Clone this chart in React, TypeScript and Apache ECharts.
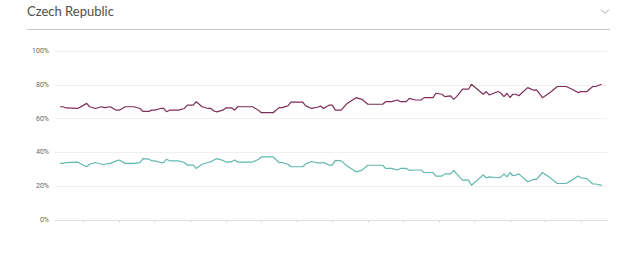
import React, { useEffect, useRef } from "react";
import * as echarts from "echarts";

// month index from the first observation
const months = [
  0, 1, 2, 6, 9, 10, 12, 14, 15, 17, 19, 20, 22, 25, 27, 28, 30, 31, 32, 34, 35, 36, 37, 40,
  42, 43, 45, 46, 48, 50, 51, 52, 53, 55, 56, 58, 59, 60, 65, 67, 68, 72, 74, 75, 77, 78, 82,
  83, 85, 87, 88, 89, 91, 92, 93, 95, 97, 100, 102, 104, 109, 110, 112, 114, 115, 117, 118,
  120, 122, 123, 126, 127, 129, 130, 132, 133, 134, 136, 138, 139, 141, 143, 144, 145, 148,
  149, 150, 151, 152, 153, 154, 155, 158, 160, 161, 163, 166, 168, 171, 173, 175, 176, 178,
  180, 181, 183,
];

const upperValues = [
  67, 67, 66.3, 66, 69, 67, 66, 67, 66.5, 67, 65, 65, 67, 67, 66, 64.3, 64.3, 65, 65, 66, 66,
  64, 65, 65, 66, 68, 68, 70, 67, 66, 66, 64.5, 64, 65, 66.3, 66.3, 65, 67, 67, 65, 63.5, 63.5,
  66.5, 66.5, 67.5, 69.7, 69.7, 67.5, 66, 66.7, 67.5, 66, 68, 68, 65, 65, 69, 72.4, 71.4, 68.5,
  68.5, 70, 70, 71, 70, 70, 72, 71, 71, 72.4, 72.4, 75, 74.4, 73, 73.5, 71.4, 73, 77.4, 77.4,
  80.3, 77.4, 74.4, 76, 74, 76, 75, 73, 75, 72.5, 74.4, 74.4, 73.5, 78.3, 76.8, 77, 72.4, 76,
  79, 79, 77.4, 75.4, 76, 76, 79, 79, 80.3,
];

const lowerValues = [
  33.5, 33.5, 34, 34.2, 31.5, 33, 34, 33, 33, 33.5, 35, 35.5, 33.5, 33.5, 34, 36.3, 36, 35, 35,
  34, 34, 36, 35, 35, 34, 32.5, 32.5, 30.5, 33, 34, 34.5, 35.5, 36.3, 35.3, 34.3, 34.5, 35.5,
  34.3, 34.3, 35.8, 37.3, 37.3, 34, 34, 33, 31.5, 31.5, 33.2, 34.6, 33.8, 33.8, 34, 32.5, 32.5,
  35.3, 35, 32, 28.5, 29.5, 32.4, 32.4, 30.5, 30.5, 29.6, 30.5, 30.5, 29.4, 29.6, 29.6, 28.1,
  28.1, 26, 26, 27.3, 27.3, 29.4, 27.3, 23.6, 23.6, 20.6, 23.6, 26.6, 25, 25.5, 25, 25.5, 27.3,
  25.5, 28.1, 26.2, 26.5, 27.3, 22.6, 24, 24, 28.1, 24.5, 21.6, 21.6, 23.6, 26, 25, 24.5, 21.3,
  21.3, 20.5,
];

// yearly tick positions (months)
const yearTicks = [8, 20, 32, 44, 56, 68, 80, 92, 104, 116, 128, 140, 152, 164, 176];

const yTicks = [0, 20, 40, 60, 80, 100];

const title = "Czech Republic";

export default function App() {
  const ref = useRef<HTMLDivElement>(null);

  useEffect(() => {
    if (!ref.current) return;
    const chart = echarts.init(ref.current, undefined, { renderer: "svg" });
    const upper = months.map((m, i) => [m, upperValues[i]]);
    const lower = months.map((m, i) => [m, lowerValues[i]]);
    chart.setOption({
      animation: false,
      backgroundColor: "#fff",
      textStyle: { fontFamily: "Roboto, Arial, sans-serif" },
      title: {
        text: title,
        left: 27,
        top: 4,
        padding: 0,
        textStyle: { fontSize: 13, fontWeight: "normal", color: "#4d4d4d", fontFamily: "Lato, Roboto, sans-serif" },
      },
      graphic: [
        {
          type: "line",
          shape: { x1: 27, y1: 29.5, x2: 610, y2: 29.5 },
          style: { stroke: "#c8c8c8", lineWidth: 1 },
          silent: true,
        },
        {
          type: "polyline",
          shape: { points: [[601, 9.5], [605, 13.5], [609, 9.5]] },
          style: { stroke: "#aaa", lineWidth: 1, fill: "none" },
          silent: true,
        },
      ],
      grid: { left: 55, right: 33, top: 51, bottom: 43, containLabel: false },
      xAxis: {
        type: "value",
        min: -1.7,
        max: 184.8,
        axisLine: { show: true, lineStyle: { color: "#ddd" } },
        axisTick: { show: true, length: 3, lineStyle: { color: "#ddd" }, customValues: yearTicks },
        axisLabel: { show: false },
        splitLine: { show: false },
      },
      yAxis: {
        type: "value",
        min: 0,
        max: 100,
        interval: 20,
        axisLine: { show: false },
        axisTick: { show: false },
        axisLabel: {
          formatter: (v: number) => (yTicks.includes(v) ? v + "%" : ""),
          fontSize: 7,
          color: "#666",
          margin: 6,
        },
        splitLine: { lineStyle: { color: "#f0f0f0" } },
      },
      series: [
        {
          name: "Upper",
          type: "line",
          data: upper,
          showSymbol: false,
          lineStyle: { color: "#7e2d57", width: 1.2 },
          itemStyle: { color: "#7e2d57" },
        },
        {
          name: "Lower",
          type: "line",
          data: lower,
          showSymbol: false,
          lineStyle: { color: "#62b8ad", width: 1.2 },
          itemStyle: { color: "#62b8ad" },
        },
      ],
    });
    return () => chart.dispose();
  }, []);

  return (
    <div
      ref={ref}
      style={{ position: "fixed", left: 0, top: 0, width: 640, height: 263, background: "#fff" }}
    />
  );
}
